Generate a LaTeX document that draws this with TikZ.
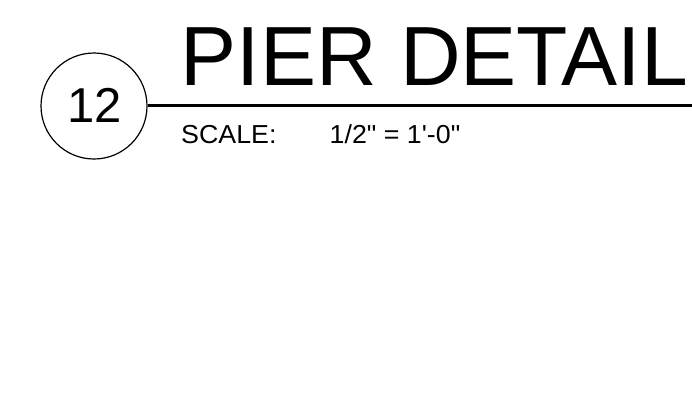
\documentclass[tikz,border=0pt]{standalone}
\usepackage{fontspec}
\setmainfont{Liberation Sans}[Ligatures=TeXOff]
\begin{document}
\begin{tikzpicture}[x=1pt,y=-1pt,
  lbl/.style={inner sep=0pt,anchor=base west},
  tag/.style={circle,draw,line width=1.2pt,minimum size=106pt,inner sep=0pt}]
\useasboundingbox (0,0) rectangle (692,416);
\node[tag] (c) at (94,106) {};
\node[inner sep=0pt,anchor=base,font=\fontsize{49}{49}\selectfont] (num) at (95,122) {12};
\node[lbl,font=\fontsize{84}{84}\selectfont] (title) at (180.5,85) {PIER DETAIL};
\coordinate (e) at (692,105);
\draw[line width=3pt] (c.east |- e) -- (e);
\node[lbl,font=\fontsize{26}{26}\selectfont,xscale=1.03] (scale) at (181,143.5) {SCALE:};
\node[lbl,font=\fontsize{26}{26}\selectfont,xscale=1.03] (val) at (329.5,143.5) {1/2" = 1'-0"};
\end{tikzpicture}
\end{document}
